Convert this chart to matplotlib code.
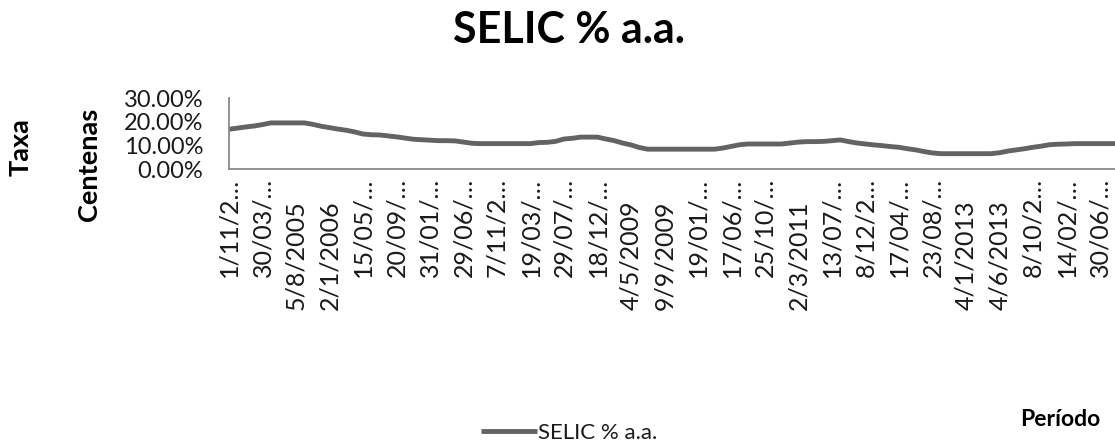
import matplotlib
matplotlib.use("Agg")
import matplotlib.pyplot as plt
from matplotlib.ticker import FuncFormatter

# ---- data ----
selic = [16.9, 17.4, 17.9, 18.3, 18.9, 19.6, 19.6, 19.6, 19.6, 19.6,
         19.0, 18.2, 17.6, 17.0, 16.5, 15.8, 14.9, 14.6, 14.5, 14.1,
         13.7, 13.2, 12.7, 12.5, 12.3, 12.1, 12.1, 12.0, 11.5, 11.0,
         10.85, 10.85, 10.85, 10.85, 10.85, 10.85, 10.85, 11.3, 11.4, 11.8,
         12.8, 13.1, 13.6, 13.6, 13.6, 12.8, 12.1, 11.1, 10.3, 9.2,
         8.5, 8.5, 8.5, 8.5, 8.5, 8.5, 8.5, 8.5, 8.5, 9.0,
         9.7, 10.4, 10.7, 10.7, 10.7, 10.7, 10.7, 11.1, 11.5, 11.7,
         11.7, 11.8, 12.1, 12.4, 11.7, 11.1, 10.7, 10.3, 10.0, 9.6,
         9.3, 8.7, 8.2, 7.5, 6.9, 6.6, 6.6, 6.6, 6.6, 6.6,
         6.6, 6.6, 7.0, 7.7, 8.2, 8.7, 9.3, 9.8, 10.4, 10.6,
         10.7, 10.85, 10.85, 10.85, 10.85, 10.85, 10.85]

tick_labels = ["1/11/2\u2026", "30/03/\u2026", "5/8/2005", "2/1/2006", "15/05/\u2026",
               "20/09/\u2026", "31/01/\u2026", "29/06/\u2026", "7/11/2\u2026", "19/03/\u2026",
               "29/07/\u2026", "18/12/\u2026", "4/5/2009", "9/9/2009", "19/01/\u2026",
               "17/06/\u2026", "25/10/\u2026", "2/3/2011", "13/07/\u2026", "8/12/2\u2026",
               "17/04/\u2026", "23/08/\u2026", "4/1/2013", "4/6/2013", "8/10/2\u2026",
               "14/02/\u2026", "30/06/\u2026"]
label_step = 4
y_ticks = [0, 10, 20, 30]

series_name = "SELIC % a.a."
title = "SELIC % a.a."

plt.rcParams['font.family'] = ['Lato', 'DejaVu Sans']

W, H = 1115, 446
fig = plt.figure(figsize=(W / 100, H / 100), dpi=100)

ax_left, ax_right = 229 / W, 1.0
ax_bottom, ax_top = 1 - 169.3 / H, 1 - 98.3 / H
ax = fig.add_axes([ax_left, ax_bottom, ax_right - ax_left, ax_top - ax_bottom])

x = list(range(len(selic)))
line_color = "#636363"
ax.plot(x, selic, color=line_color, lw=3.5, solid_joinstyle="round",
        solid_capstyle="butt", label=series_name, clip_on=True)

ax.set_xlim(0, (W - 229) / 8.375)
ax.set_ylim(0, 30)
ax.set_yticks(y_ticks)
ax.yaxis.set_major_formatter(FuncFormatter(lambda v, p: f"{v:.2f}%"))
ax.tick_params(axis="y", length=0, pad=18.5, labelsize=17, labelcolor="#1a1a1a")
ax.tick_params(axis="x", length=0)

tick_pos = [i * label_step for i in range(len(tick_labels))]
ax.set_xticks(tick_pos)
ax.set_xticklabels([])
for pos, lab in zip(tick_pos, tick_labels):
    if lab.endswith("\u2026"):
        ax.annotate(lab, xy=(pos, 0), xycoords=("data", "axes fraction"),
                    xytext=(0, -(178 - 169.3)), textcoords="offset pixels",
                    rotation=90, ha="center", va="top", fontsize=18,
                    color="#1a1a1a", annotation_clip=False)
    else:
        ax.annotate(lab, xy=(pos, 0), xycoords=("data", "axes fraction"),
                    xytext=(0, -(310 - 169.3)), textcoords="offset pixels",
                    rotation=90, ha="center", va="bottom", fontsize=18,
                    color="#1a1a1a", annotation_clip=False)

for s in ["top", "right"]:
    ax.spines[s].set_visible(False)
for s in ["left", "bottom"]:
    ax.spines[s].set_color("#898989")
    ax.spines[s].set_linewidth(1.3)

fig.text(569 / W, 1 - 30 / H, title, ha="center", va="center",
         fontsize=31, fontweight="bold", color="#000000")
fig.text(21 / W, 1 - 147.5 / H, "Taxa", rotation=90, ha="center", va="center",
         fontsize=19.5, fontweight="bold", color="#000000")
fig.text(89 / W, 1 - 164 / H, "Centenas", rotation=90, ha="center", va="center",
         fontsize=19.5, fontweight="bold", color="#000000")
fig.text(1060 / W, 1 - 419 / H, "Período", ha="center", va="center",
         fontsize=16.5, fontweight="bold", color="#000000")

handles, labels = ax.get_legend_handles_labels()
fig.legend(handles, labels, loc="center left", bbox_to_anchor=(481 / W, 1 - 433 / H),
           frameon=False, fontsize=16, handlelength=2.5, handletextpad=0.05,
           borderpad=0, borderaxespad=0, labelcolor="#1a1a1a")

fig.savefig("out.png", dpi=100)
